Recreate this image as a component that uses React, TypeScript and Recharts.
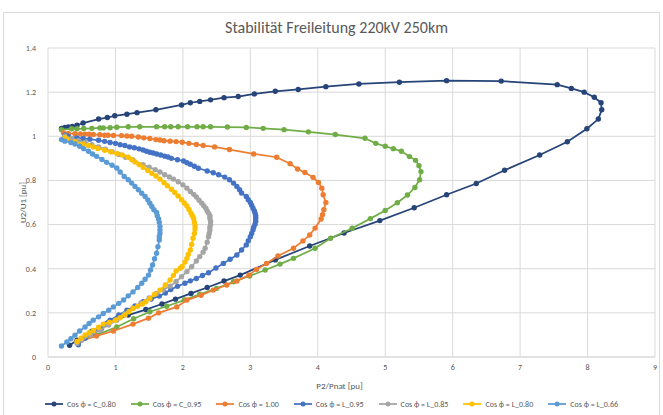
import React from "react"
import { ScatterChart, Scatter, XAxis, YAxis, CartesianGrid, Legend } from "recharts"

// P2/Pnat, U2/U1 pairs (upper branch -> nose -> lower branch)
const cosC080: [number, number][] = [
  [0.2, 1.035], [0.25, 1.04], [0.3, 1.042], [0.36, 1.045], [0.43, 1.05], [0.52, 1.06], [0.75, 1.078],
  [0.88, 1.085], [0.99, 1.093], [1.17, 1.1], [1.32, 1.107], [1.6, 1.12], [1.98, 1.142], [2.11, 1.152],
  [2.25, 1.158], [2.41, 1.165], [2.61, 1.175], [2.82, 1.18], [3.06, 1.192], [3.37, 1.204], [3.71, 1.212],
  [4.12, 1.225], [4.61, 1.237], [5.21, 1.245], [5.91, 1.252], [6.72, 1.25], [7.55, 1.234], [7.76, 1.217],
  [7.95, 1.2], [8.1, 1.177], [8.2, 1.152], [8.21, 1.12], [8.16, 1.078], [7.99, 1.034], [7.7, 0.975],
  [7.29, 0.915], [6.77, 0.846], [6.35, 0.786], [5.91, 0.735], [5.43, 0.676], [4.92, 0.618], [4.39, 0.562],
  [3.88, 0.503], [3.37, 0.44], [2.85, 0.371], [2.61, 0.344], [2.36, 0.315], [2.12, 0.288], [1.89, 0.262],
  [1.69, 0.24], [1.45, 0.215], [1.19, 0.19], [0.89, 0.155], [0.65, 0.117], [0.43, 0.076], [0.32, 0.053],
]
const cosC095: [number, number][] = [
  [0.2, 1.03], [0.35, 1.034], [0.43, 1.034], [0.53, 1.035], [0.65, 1.036], [0.77, 1.038], [0.82, 1.038],
  [0.92, 1.039], [1.02, 1.041], [1.19, 1.043], [1.36, 1.043], [1.61, 1.043], [1.73, 1.043], [1.82, 1.043],
  [1.93, 1.043], [2.07, 1.043], [2.21, 1.043], [2.3, 1.043], [2.41, 1.043], [2.66, 1.042], [2.94, 1.04],
  [3.19, 1.036], [3.5, 1.03], [3.86, 1.02], [4.26, 1.008], [4.7, 0.991], [4.86, 0.968], [5.0, 0.955],
  [5.12, 0.944], [5.24, 0.932], [5.36, 0.908], [5.45, 0.891], [5.5, 0.867], [5.53, 0.84], [5.51, 0.803],
  [5.44, 0.768], [5.33, 0.734], [5.18, 0.699], [5.0, 0.664], [4.78, 0.627], [4.51, 0.583], [4.19, 0.538],
  [3.96, 0.493], [3.64, 0.447], [3.44, 0.421], [3.22, 0.394], [2.99, 0.367], [2.75, 0.341], [2.5, 0.311],
  [2.25, 0.284], [2.02, 0.258], [1.76, 0.23], [1.51, 0.205], [1.27, 0.173], [1.02, 0.136], [0.72, 0.1],
  [0.45, 0.07],
]
const cos100: [number, number][] = [
  [0.23, 1.015], [0.3, 1.013], [0.4, 1.012], [0.48, 1.011], [0.55, 1.01], [0.61, 1.009], [0.67, 1.008],
  [0.77, 1.007], [0.84, 1.005], [0.89, 1.005], [0.97, 1.004], [1.09, 1.003], [1.17, 1.001], [1.24, 1.0],
  [1.34, 0.997], [1.42, 0.993], [1.51, 0.99], [1.6, 0.985], [1.66, 0.983], [1.72, 0.98], [1.81, 0.978],
  [1.9, 0.976], [1.99, 0.973], [2.09, 0.968], [2.2, 0.963], [2.3, 0.958], [2.47, 0.952], [2.69, 0.94],
  [3.05, 0.92], [3.39, 0.905], [3.59, 0.876], [3.7, 0.852], [3.81, 0.836], [3.93, 0.814], [4.01, 0.791],
  [4.06, 0.765], [4.08, 0.735], [4.12, 0.7], [4.09, 0.667], [4.07, 0.645], [4.05, 0.625], [3.96, 0.584],
  [3.88, 0.553], [3.78, 0.526], [3.64, 0.493], [3.41, 0.458], [3.24, 0.424], [3.09, 0.397], [2.98, 0.371],
  [2.8, 0.344], [2.65, 0.326], [2.45, 0.303], [2.27, 0.28], [2.06, 0.258], [1.91, 0.227], [1.64, 0.2],
  [1.49, 0.176], [1.26, 0.149], [0.97, 0.118], [0.72, 0.095], [0.45, 0.07],
]
const cosL095: [number, number][] = [
  [0.25, 1.005], [0.3, 1.0], [0.43, 0.993], [0.52, 0.99], [0.62, 0.987], [0.75, 0.982], [0.84, 0.977],
  [0.92, 0.972], [1.0, 0.968], [1.07, 0.962], [1.14, 0.958], [1.21, 0.952], [1.28, 0.948], [1.35, 0.943],
  [1.41, 0.938], [1.46, 0.932], [1.51, 0.928], [1.56, 0.924], [1.61, 0.92], [1.67, 0.915], [1.73, 0.91],
  [1.78, 0.906], [1.83, 0.9], [1.92, 0.894], [2.01, 0.888], [2.06, 0.88], [2.11, 0.873], [2.17, 0.864],
  [2.23, 0.855], [2.36, 0.843], [2.45, 0.835], [2.53, 0.826], [2.62, 0.815], [2.69, 0.803], [2.75, 0.788],
  [2.8, 0.773], [2.84, 0.758], [2.87, 0.743], [2.94, 0.727], [2.97, 0.713], [3.0, 0.7], [3.02, 0.688],
  [3.04, 0.674], [3.06, 0.662], [3.07, 0.652], [3.08, 0.64], [3.08, 0.629], [3.08, 0.615], [3.07, 0.602],
  [3.05, 0.588], [3.04, 0.576], [3.02, 0.56], [3.0, 0.545], [2.97, 0.527], [2.94, 0.508], [2.87, 0.485],
  [2.8, 0.462], [2.7, 0.443], [2.6, 0.424], [2.49, 0.403], [2.38, 0.382], [2.29, 0.369], [2.2, 0.356],
  [2.11, 0.345], [2.03, 0.334], [1.92, 0.32], [1.82, 0.306], [1.74, 0.29], [1.65, 0.276], [1.53, 0.263],
  [1.41, 0.25], [1.29, 0.231], [1.17, 0.212], [1.05, 0.19], [0.92, 0.167], [0.86, 0.15], [0.79, 0.128],
  [0.65, 0.106], [0.55, 0.085], [0.45, 0.055],
]
const cosL085: [number, number][] = [
  [0.25, 1.0], [0.35, 0.99], [0.45, 0.98], [0.55, 0.972], [0.65, 0.962], [0.75, 0.952], [0.85, 0.942],
  [0.95, 0.93], [1.05, 0.918], [1.15, 0.905], [1.26, 0.893], [1.41, 0.871], [1.5, 0.86], [1.59, 0.849],
  [1.66, 0.838], [1.73, 0.826], [1.8, 0.816], [1.86, 0.806], [1.93, 0.794], [2.0, 0.78], [2.06, 0.765],
  [2.11, 0.75], [2.16, 0.737], [2.2, 0.725], [2.24, 0.71], [2.28, 0.697], [2.31, 0.685], [2.34, 0.674],
  [2.36, 0.662], [2.38, 0.652], [2.4, 0.64], [2.4, 0.629], [2.41, 0.615], [2.41, 0.6], [2.4, 0.588],
  [2.4, 0.575], [2.39, 0.56], [2.38, 0.545], [2.36, 0.52], [2.33, 0.493], [2.3, 0.475], [2.25, 0.455],
  [2.2, 0.435], [2.13, 0.409], [2.06, 0.387], [1.98, 0.364], [1.9, 0.342], [1.81, 0.321], [1.71, 0.305],
  [1.61, 0.288], [1.5, 0.268], [1.38, 0.245], [1.26, 0.222], [1.14, 0.195], [1.02, 0.167], [0.9, 0.145],
  [0.77, 0.121], [0.63, 0.1], [0.5, 0.076], [0.43, 0.062],
]
const cosL080: [number, number][] = [
  [0.25, 0.995], [0.28, 0.988], [0.4, 0.975], [0.52, 0.965], [0.6, 0.958], [0.67, 0.952], [0.74, 0.945],
  [0.84, 0.937], [0.93, 0.93], [1.02, 0.922], [1.1, 0.915], [1.19, 0.905], [1.24, 0.895], [1.29, 0.884],
  [1.35, 0.872], [1.41, 0.86], [1.48, 0.845], [1.54, 0.832], [1.6, 0.82], [1.66, 0.806], [1.72, 0.79],
  [1.77, 0.776], [1.83, 0.76], [1.88, 0.745], [1.93, 0.73], [1.98, 0.713], [2.02, 0.698], [2.06, 0.684],
  [2.09, 0.668], [2.12, 0.652], [2.14, 0.64], [2.16, 0.628], [2.17, 0.61], [2.18, 0.595], [2.18, 0.58],
  [2.17, 0.56], [2.15, 0.538], [2.13, 0.51], [2.11, 0.485], [2.08, 0.465], [2.06, 0.447], [2.03, 0.43],
  [1.99, 0.41], [1.96, 0.402], [1.9, 0.39], [1.86, 0.37], [1.81, 0.349], [1.74, 0.326], [1.66, 0.303],
  [1.58, 0.284], [1.51, 0.265], [1.45, 0.25], [1.4, 0.24], [1.33, 0.23], [1.26, 0.22], [1.2, 0.205],
  [1.14, 0.19], [1.07, 0.178], [1.0, 0.167], [0.91, 0.157], [0.82, 0.149], [0.75, 0.135], [0.67, 0.12],
  [0.61, 0.11], [0.55, 0.1], [0.49, 0.085], [0.43, 0.07],
]
const cosL066: [number, number][] = [
  [0.2, 0.985], [0.25, 0.978], [0.34, 0.972], [0.4, 0.965], [0.47, 0.955], [0.53, 0.944], [0.6, 0.932],
  [0.66, 0.92], [0.72, 0.909], [0.8, 0.895], [0.87, 0.882], [0.95, 0.869], [1.02, 0.856], [1.07, 0.838],
  [1.13, 0.818], [1.19, 0.803], [1.24, 0.788], [1.29, 0.773], [1.34, 0.758], [1.39, 0.742], [1.44, 0.727],
  [1.48, 0.712], [1.51, 0.697], [1.54, 0.682], [1.57, 0.667], [1.61, 0.655], [1.62, 0.64], [1.64, 0.625],
  [1.65, 0.61], [1.66, 0.591], [1.66, 0.575], [1.66, 0.56], [1.65, 0.545], [1.65, 0.53], [1.63, 0.5],
  [1.61, 0.47], [1.58, 0.445], [1.55, 0.417], [1.52, 0.394], [1.49, 0.371], [1.44, 0.352], [1.39, 0.334],
  [1.33, 0.315], [1.26, 0.295], [1.19, 0.277], [1.12, 0.258], [1.05, 0.243], [0.97, 0.227], [0.9, 0.212],
  [0.82, 0.197], [0.75, 0.182], [0.67, 0.167], [0.61, 0.152], [0.55, 0.136], [0.47, 0.118], [0.4, 0.099],
  [0.34, 0.083], [0.28, 0.068], [0.2, 0.05],
]

const seriesNames = [
  "Cos ϕ = C_0.80", "Cos ϕ = C_0.95", "Cos ϕ = 1.00", "Cos ϕ = L_0.95",
  "Cos ϕ = L_0.85", "Cos ϕ = L_0.80", "Cos ϕ = L_0.66",
]
const seriesData = [cosC080, cosC095, cos100, cosL095, cosL085, cosL080, cosL066]
const colors = ["#264478", "#70ad47", "#ed7d31", "#4472c4", "#a5a5a5", "#ffc000", "#5b9bd5"]

const xTicks = [0, 1, 2, 3, 4, 5, 6, 7, 8, 9]
const yTicks = [0, 0.2, 0.4, 0.6, 0.8, 1, 1.2, 1.4]

const font = "Carlito, Calibri, Lato, sans-serif"
const grid = "#d9d9d9"
const textColor = "#595959"

// keep the series order (the default legend sorts by name)
const LegendRow = ({ payload }: any) => {
  const items = seriesNames
    .map((name) => (payload || []).find((p: any) => p.value === name))
    .filter(Boolean)
  return (
    <div style={{ display: "flex", justifyContent: "center", gap: 15, fontSize: 8, color: textColor, height: 14, alignItems: "center" }}>
      {items.map((p: any) => (
        <div key={p.value} style={{ display: "flex", alignItems: "center" }}>
          <svg width={18} height={8} style={{ marginRight: 4 }}>
            <line x1={0} y1={4} x2={18} y2={4} stroke={p.color} strokeWidth={1.75} />
            <circle cx={9} cy={4} r={2.5} fill={p.color} />
          </svg>
          <span>{p.value}</span>
        </div>
      ))}
    </div>
  )
}

export default function App() {
  return (
    <div style={{ position: "absolute", left: 0, top: 0, width: 663, height: 415, background: "#fff", fontFamily: font, overflow: "hidden" }}>
      <div style={{ position: "absolute", left: 3, top: 12, width: 655, height: 420, border: `1px solid ${grid}` }} />
      <div style={{ position: "absolute", left: 0, width: 673, top: 18, textAlign: "center", fontSize: 16, color: textColor }}>
        Stabilität Freileitung 220kV 250km
      </div>
      <ScatterChart width={663} height={415} margin={{ top: 48, right: 8, bottom: 8, left: 0 }} style={{ position: "absolute", left: 0, top: 0 }}>
        <CartesianGrid stroke={grid} strokeWidth={1} />
        <XAxis
          type="number"
          dataKey="x"
          domain={[0, 9]}
          ticks={xTicks}
          height={36}
          tickSize={0}
          tickMargin={7}
          tickLine={false}
          axisLine={{ stroke: grid }}
          tick={{ fontSize: 8, fill: textColor, fontFamily: font }}
          label={{ value: "P2/Pnat [pu]", position: "insideBottom", offset: 4, dx: -12, fontSize: 9, fill: textColor, fontFamily: font }}
        />
        <YAxis
          type="number"
          dataKey="y"
          domain={[0, 1.4]}
          ticks={yTicks}
          width={48}
          tickSize={0}
          tickMargin={12}
          tickLine={false}
          axisLine={false}
          tick={{ fontSize: 8, fill: textColor, fontFamily: font }}
          label={{ value: "U2/U1 [pu]", angle: -90, position: "insideLeft", offset: 23, fontSize: 9, fill: textColor, fontFamily: font, style: { textAnchor: "middle" } }}
        />
        <Legend content={<LegendRow />} verticalAlign="bottom" wrapperStyle={{ top: 397, bottom: "auto", left: 0, width: 663, height: 14 }} />
        {seriesData.map((pts, i) => (
          <Scatter
            key={seriesNames[i]}
            name={seriesNames[i]}
            data={pts.map(([x, y]) => ({ x, y }))}
            fill={colors[i]}
            line={{ stroke: colors[i], strokeWidth: 1.75 }}
            lineType="joint"
            isAnimationActive={false}
            shape={(props: any) => <circle cx={props.cx} cy={props.cy} r={2.7} fill={colors[i]} />}
          />
        ))}
      </ScatterChart>
    </div>
  )
}
